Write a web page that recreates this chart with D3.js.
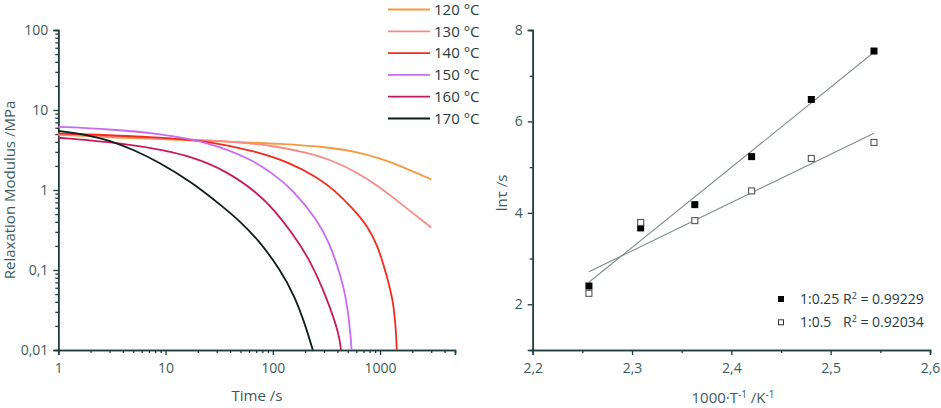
<!DOCTYPE html>
<html><head><meta charset="utf-8">
<script src="https://cdn.jsdelivr.net/npm/d3@7"></script>
<style>
body{margin:0;background:#fff;}
svg{display:block;font-family:"Open Sans",sans-serif;}
</style></head>
<body>
<svg id="c" width="941" height="408"></svg>
<script>
// ---------- Left panel data: relaxation modulus G(t) [MPa] vs time [s] ----------
const temps = ["120 °C","130 °C","140 °C","150 °C","160 °C","170 °C"];
const colors = ["#f59a3c","#f58c84","#f42a1e","#c76cf2","#c71a5c","#0e1c1c"];
const G120 = [[1,4.9],[3,4.55],[10,4.3],[40,4.0],[117,3.8],[343,3.41],[600,3.0],[1000,2.49],[1500,2.03],[2000,1.72],[3000,1.36]];
const G130 = [[1,5.0],[3,4.7],[10,4.4],[40,4.1],[117,3.47],[200,2.95],[355,2.37],[600,1.68],[1000,1.08],[1260,0.85],[2000,0.52],[3000,0.34]];
const G140 = [[1,5.1],[8.5,4.6],[24.9,4.1],[73,3.0],[149,2.15],[265,1.42],[373,1.0],[550,0.6],[770,0.35],[950,0.2],[1090,0.11],[1200,0.07],[1315,0.042],[1380,0.024],[1415,0.015],[1430,0.01]];
const G150 = [[1,6.17],[3,5.75],[8.5,5.1],[24.9,4.0],[62.5,2.45],[100,1.6],[149,1.05],[262,0.42],[340,0.21],[403,0.11],[460,0.06],[500,0.032],[530,0.016],[543,0.01]];
const G160 = [[1,4.5],[4.16,3.83],[10,3.1],[17.4,2.6],[35.7,1.78],[73,0.91],[103,0.56],[149,0.30],[226,0.13],[324,0.042],[415,0.016],[432,0.01]];
const G170 = [[1,5.47],[2,4.8],[2.91,4.2],[5,3.2],[8.5,2.26],[17.4,1.27],[35.7,0.59],[50,0.40],[73,0.24],[118,0.1],[160,0.047],[200,0.021],[236,0.01]];
const seriesG = [G120,G130,G140,G150,G160,G170];
const xTicksL = [1,10,100,1000];
const yTicksL = [0.01,0.1,1,10,100];
const yTickLabelsL = ["0,01","0,1","1","10","100"];

// ---------- Right panel data: ln(tau) vs 1000/T ----------
const invT = [2.2566,2.3087,2.3632,2.4204,2.4805,2.5436];
const lnTau025 = [2.40,3.67,4.18,5.23,6.48,7.54];
const lnTau05 = [2.24,3.79,3.83,4.48,5.19,5.54];
const seriesNames = ["1:0.25","1:0.5"];
const r2Labels = ["0.99229","0.92034"];
const xTicksR = [2.2,2.3,2.4,2.5,2.6];
const yTicksR = [2,4,6,8];

const svg = d3.select("#c");
const axisCol = "#1f3d3d", labelCol = "#3b5c5c";

function styleAxis(g){
  g.select(".domain").attr("stroke",axisCol).attr("stroke-width",1.5);
  g.selectAll(".tick line").attr("stroke",axisCol).attr("stroke-width",1.3);
  g.selectAll(".tick text").attr("fill",labelCol).style("font-size","14px").style("font-family","'Open Sans',sans-serif");
}

// ===== Left panel =====
const xL = d3.scaleLog().domain([1,5000]).range([58.3,455]);
const yL = d3.scaleLog().domain([0.01,100]).range([350,30]);
const minorX = [];
for(let d=1; d<=1000; d*=10) for(let k=2;k<=9;k++){ const v=k*d; if(v<=5000) minorX.push(v); }
const minorY = [];
for(let d=0.01; d<50; d*=10) for(let k=2;k<=9;k++) minorY.push(k*d);

const gL = svg.append("g");
gL.append("g").attr("transform","translate(0,350)")
  .call(d3.axisBottom(xL).tickValues(minorX).tickSize(3).tickFormat("")).call(styleAxis);
gL.append("g").attr("transform","translate(0,350)")
  .call(d3.axisBottom(xL).tickValues(xTicksL).tickSize(5).tickPadding(8).tickFormat(d3.format("d"))).call(styleAxis);
gL.append("g").attr("transform","translate(58.3,0)")
  .call(d3.axisLeft(yL).tickValues(minorY).tickSize(3).tickFormat("")).call(styleAxis);
gL.append("g").attr("transform","translate(58.3,0)")
  .call(d3.axisLeft(yL).tickValues(yTicksL).tickSize(5).tickPadding(5).tickFormat((d,i)=>yTickLabelsL[i])).call(styleAxis);

const lineL = d3.line().x(d=>xL(d[0])).y(d=>yL(d[1])).curve(d3.curveBasis);
seriesG.forEach((s,i)=>{
  gL.append("path").datum(s).attr("d",lineL).attr("fill","none")
    .attr("stroke",colors[i]).attr("stroke-width",1.8);
});

gL.append("text").attr("transform","translate(15,190) rotate(-90)").attr("text-anchor","middle")
  .attr("fill",labelCol).style("font-size","15px").text("Relaxation Modulus /MPa");
gL.append("text").attr("x",257).attr("y",401).attr("text-anchor","middle")
  .attr("fill",labelCol).style("font-size","15px").text("Time /s");

// Legend left
temps.forEach((t,i)=>{
  const y = 9.5 + i*21.8;
  gL.append("line").attr("x1",388).attr("x2",430).attr("y1",y).attr("y2",y)
    .attr("stroke",colors[i]).attr("stroke-width",1.8);
  gL.append("text").attr("x",434).attr("y",y).attr("dy","0.35em")
    .attr("fill","#1f3d3d").style("font-size","15px").text(t);
});

// ===== Right panel =====
const xR = d3.scaleLinear().domain([2.2,2.6]).range([532.7,930]);
const yR = d3.scaleLinear().domain([1,8]).range([350,30]);
const gR = svg.append("g");
const comma = d=>d3.format(".1f")(d).replace(".",",");
gR.append("g").attr("transform","translate(0,350)")
  .call(d3.axisBottom(xR).tickValues([2.25,2.35,2.45,2.55]).tickSize(3).tickFormat("")).call(styleAxis);
gR.append("g").attr("transform","translate(0,350)")
  .call(d3.axisBottom(xR).tickValues(xTicksR).tickSize(5).tickPadding(8).tickFormat(comma)).call(styleAxis);
gR.append("g").attr("transform","translate(532.7,0)")
  .call(d3.axisLeft(yR).tickValues([3,5,7]).tickSize(3).tickFormat("")).call(styleAxis);
gR.append("g").attr("transform","translate(532.7,0)")
  .call(d3.axisLeft(yR).tickValues(yTicksR).tickSize(5).tickPadding(5).tickFormat(d3.format("d"))).call(styleAxis);

// Linear fits (least squares)
function fit(xs,ys){
  const n=xs.length, mx=d3.mean(xs), my=d3.mean(ys);
  let sxy=0,sxx=0; for(let i=0;i<n;i++){sxy+=(xs[i]-mx)*(ys[i]-my); sxx+=(xs[i]-mx)**2;}
  const b=sxy/sxx, a=my-b*mx; return x=>a+b*x;
}
[lnTau025,lnTau05].forEach(ys=>{
  const f=fit(invT,ys); const x0=d3.min(invT), x1=d3.max(invT);
  gR.append("line").attr("x1",xR(x0)).attr("y1",yR(f(x0))).attr("x2",xR(x1)).attr("y2",yR(f(x1)))
    .attr("stroke","#7f8c8c").attr("stroke-width",1.1);
});
const ms=7;
gR.selectAll(".f").data(invT.map((x,i)=>[x,lnTau025[i]])).enter().append("rect")
  .attr("x",d=>xR(d[0])-ms/2).attr("y",d=>yR(d[1])-ms/2).attr("width",ms).attr("height",ms)
  .attr("fill","#000");
gR.selectAll(".o").data(invT.map((x,i)=>[x,lnTau05[i]])).enter().append("rect")
  .attr("x",d=>xR(d[0])-ms/2+0.5).attr("y",d=>yR(d[1])-ms/2+0.5).attr("width",ms-1).attr("height",ms-1)
  .attr("fill","#fff").attr("stroke","#555").attr("stroke-width",1.1);

gR.append("text").attr("transform","translate(507,193) rotate(-90)").attr("text-anchor","middle")
  .attr("fill",labelCol).style("font-size","15px").text("lnτ /s");
const xt = gR.append("text").attr("x",733).attr("y",403).attr("text-anchor","middle")
  .attr("fill",labelCol).style("font-size","15px");
xt.append("tspan").text("1000·T");
xt.append("tspan").attr("dy",-5).style("font-size","10px").text("-1");
xt.append("tspan").attr("dy",5).text(" /K");
xt.append("tspan").attr("dy",-5).style("font-size","10px").text("-1");

// Legend right
seriesNames.forEach((nm,i)=>{
  const y = 299 + i*23.3;
  if(i===0) gR.append("rect").attr("x",778).attr("y",y-3).attr("width",6).attr("height",6).attr("fill","#000");
  else gR.append("rect").attr("x",778.5).attr("y",y-2.5).attr("width",5).attr("height",5).attr("fill","#fff").attr("stroke","#333").attr("stroke-width",1);
  gR.append("text").attr("x",800).attr("y",y).attr("dy","0.35em").attr("fill","#1f3d3d").style("font-size","14px").text(nm);
  const t = gR.append("text").attr("x",843).attr("y",y).attr("dy","0.35em").attr("fill","#1f3d3d").style("font-size","14px");
  t.append("tspan").text("R");
  t.append("tspan").attr("dy",-5).style("font-size","9px").text("2");
  t.append("tspan").attr("dy",5).text(" = "+r2Labels[i]);
});
</script>
</body></html>
